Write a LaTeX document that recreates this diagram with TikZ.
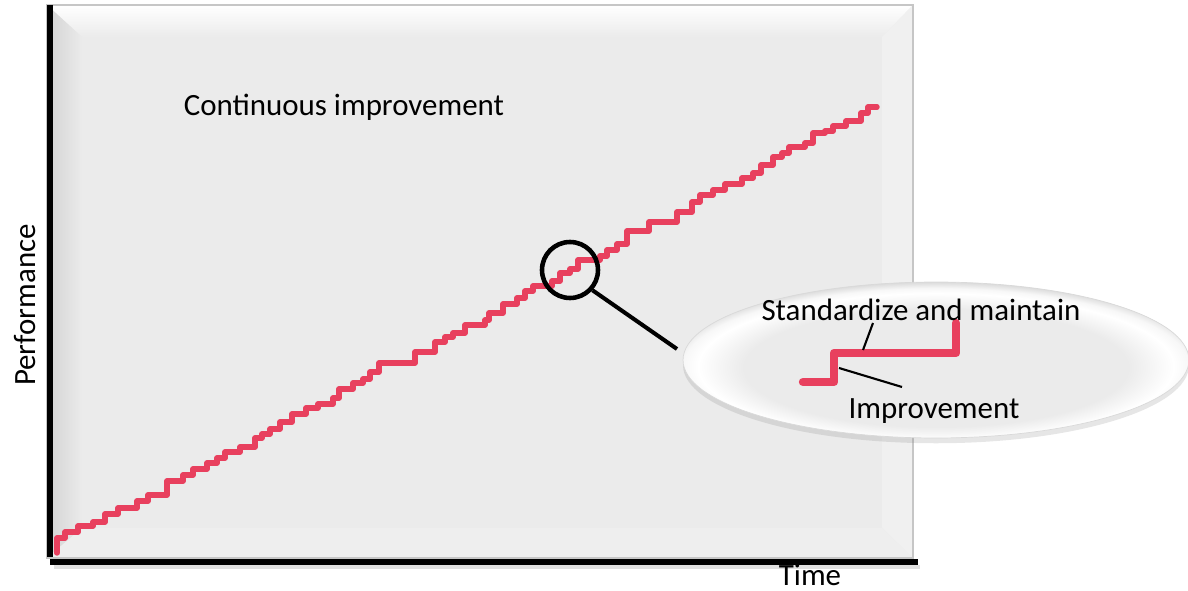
\documentclass[tikz,border=0pt]{standalone}
\usepackage{fontspec}
\setmainfont{Carlito}
\usepackage{xcolor}
\usetikzlibrary{shapes.geometric,shadows}

\definecolor{facegray}{HTML}{EBEBEB}
\definecolor{stairred}{HTML}{E8405E}
% pillow look of the close-up: grey middle, white rim
\pgfdeclareradialshading{insetglow}{\pgfpoint{0bp}{-4bp}}{%
  color(0bp)=(facegray); color(19bp)=(facegray); color(23.5bp)=(white);
  color(25bp)=(white!97!black); color(27bp)=(white!85!black); color(50bp)=(white!85!black)}

\begin{document}
\begin{tikzpicture}[x=0.02cm,y=-0.02cm,
    lbl/.style={font=\fontsize{17.6}{21}\selectfont,inner sep=0pt},
    stair/.style={draw=stairred,line width=3.1pt,line join=round,line cap=round},
    axis/.style={line width=3.4pt},
    pointer/.style={line width=1.2pt}]
  \useasboundingbox (0,0) rectangle (1188,591);

  % bevelled panel
  \fill[facegray] (47,5) rectangle (913,558);
  \shade[top color=white,middle color=white,bottom color=facegray]
    (47,5) -- (913,5) -- (882,37) -- (82,37) -- cycle;
  \shade[left color=gray!35,right color=facegray]
    (47,5) -- (82,37) -- (82,528) -- (47,558) -- cycle;
  \fill[facegray!75!white] (913,5) -- (913,558) -- (882,528) -- (882,37) -- cycle;
  \fill[facegray!85!white] (47,558) -- (913,558) -- (882,528) -- (82,528) -- cycle;
  \draw[gray!45,line width=0.6pt] (47,5) rectangle (913,558);

  % axes
  \draw[gray!40,line width=2pt,opacity=0.6] (54,567) -- (920,567);
  \draw[axis] (50,5) -- (50,557);
  \draw[axis] (50,562) -- (918,562);

  \node[lbl] (title) at (344,107) {Continuous improvement};
  \node[lbl,rotate=90] (perf) at (25,305) {Performance};
  \node[lbl] (time) at (810,575) {Time};

  % many small steps
  \draw[stair] (57,553) foreach \x/\y in {57/538,65/532,78/526,93/522,105/514,
      118/508,137/501,148/495,167/481,183/475,193/469,207/463,217/458,225/452,
      240/447,255/438,262/434,270/429,280/422,292/414,306/408,318/404,333/398,
      339/389,353/383,363/379,370/372,379/363,415/352,435/342,445/337,453/333,
      465/325,485/320,489/313,503/304,517/298,525/291,533/286,552/281,560/273,
      570/269,578/260,600/256,607/250,617/244,627/231,649/222,677/212,692/202,
      700/195,713/190,725/184,742/178,753/173,761/165,773/157,782/153,789/147,
      805/143,813/133,825/131,833/126,846/121,861/113,868/107} { -| (\x,\y) }
    -- (877,107);

  % magnifier
  \node[circle,draw,line width=2.6pt,minimum size=1.12cm,inner sep=0pt] (lens) at (570,270) {};
  \coordinate (handleend) at (677,349);
  \draw[line width=2.3pt] (lens.-42) -- (handleend);

  % close-up of one step
  \node[ellipse,minimum width=10.12cm,minimum height=3.12cm,inner sep=0pt,
    draw=gray!30,line width=0.4pt,shading=insetglow,
    drop shadow={shadow xshift=0pt,shadow yshift=-3pt,opacity=0.2}] (inset) at (936,360) {};
  \draw[stair,line width=4.8pt] (803,382) -| (834,353) -| (956,323);
  \node[lbl] (keeplbl) at (921,310) {Standardize and maintain};
  \node[lbl] (improvelbl) at (934,411) {Improvement};
  \coordinate (keepfoot) at (863,350);
  \coordinate (keeptip) at (873,323);
  \coordinate (risefoot) at (839,368);
  \coordinate (risetip) at (902,387);
  \draw[pointer] (keepfoot) -- (keeptip);
  \draw[pointer] (risefoot) -- (risetip);
\end{tikzpicture}
\end{document}
